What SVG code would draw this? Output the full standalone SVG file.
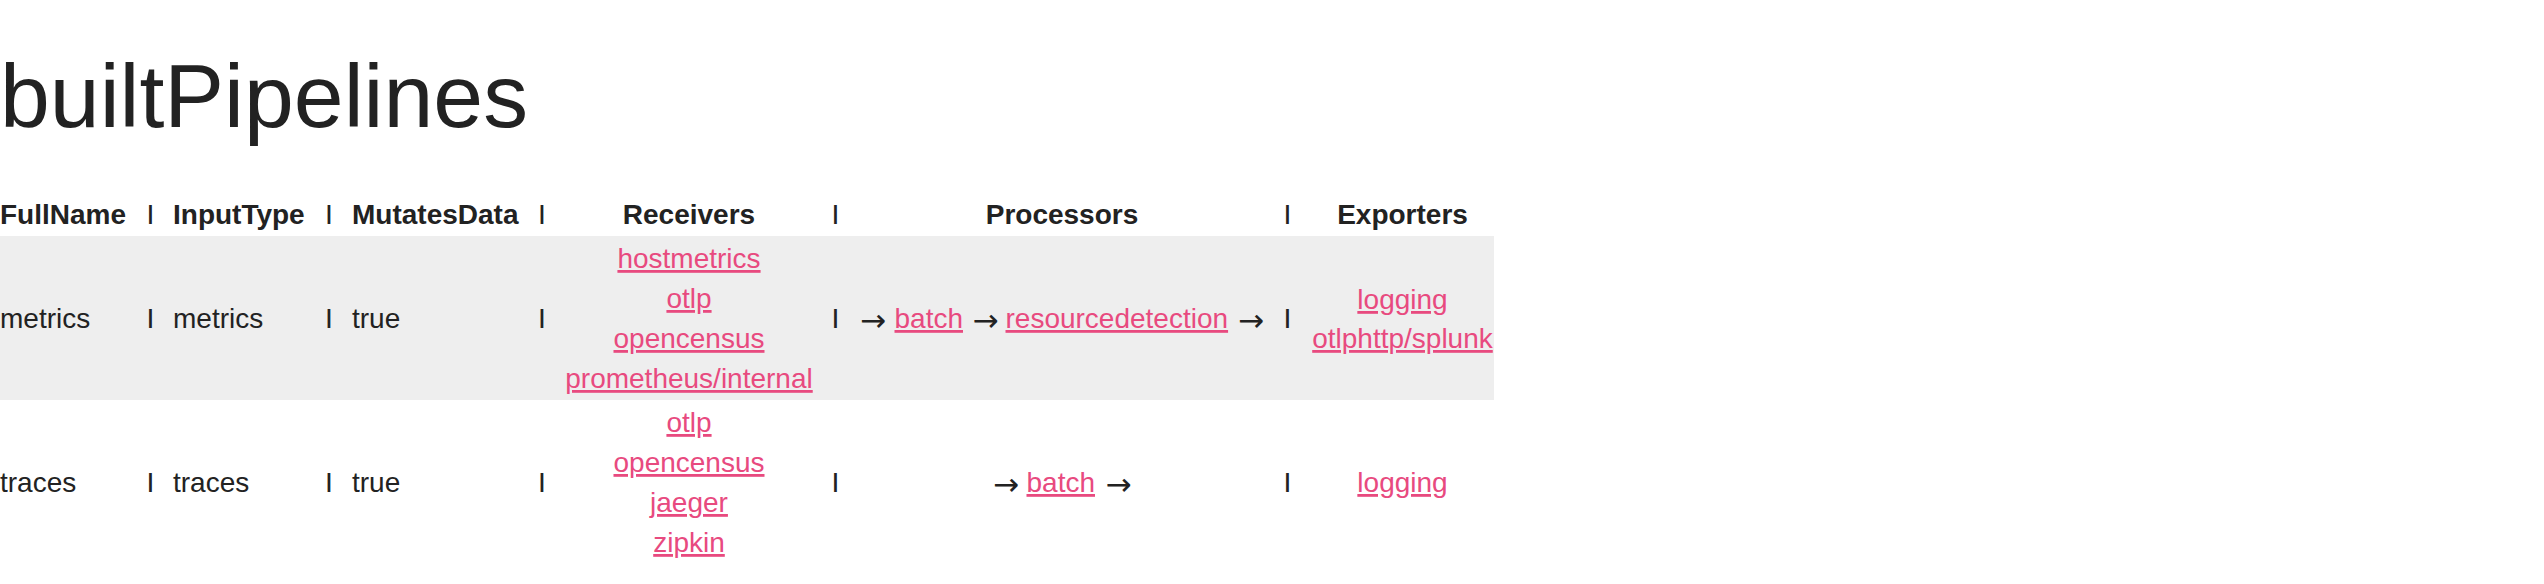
<svg xmlns="http://www.w3.org/2000/svg" width="2544" height="584" viewBox="0 0 2544 584">
<style>
text { font-family: "Liberation Sans", Arial, Helvetica, sans-serif; font-size: 28px; fill: #222; }
.title { font-size: 89.6px; }
.h { font-weight: bold; }
.c { text-anchor: middle; }
.a { fill: #e84a7f; text-decoration: underline; }
.bar { font-size: 21px; font-weight: bold; text-anchor: middle; }
.arr { font-family: "DejaVu Sans", sans-serif; font-size: 31px; text-anchor: middle; }
</style>
<rect width="2544" height="584" fill="#ffffff"/>
<g id="title">
<text class="title" x="0" y="127">builtPipelines</text>
</g>
<g id="header">
<text class="h" x="0" y="224">FullName</text>
<text class="bar" x="150.5" y="219.5">|</text>
<text class="h" x="173" y="224">InputType</text>
<text class="bar" x="329" y="219.5">|</text>
<text class="h" x="352" y="224">MutatesData</text>
<text class="bar" x="542" y="219.5">|</text>
<text class="h c" x="689" y="224">Receivers</text>
<text class="bar" x="835.5" y="219.5">|</text>
<text class="h c" x="1062" y="224">Processors</text>
<text class="bar" x="1287.5" y="219.5">|</text>
<text class="h c" x="1402.5" y="224">Exporters</text>
</g>
<g id="row-metrics">
<rect x="0" y="236" width="1494" height="164" fill="#eeeeee"/>
<text x="0" y="328">metrics</text>
<text class="bar" x="150.5" y="323.5">|</text>
<text x="173" y="328">metrics</text>
<text class="bar" x="329" y="323.5">|</text>
<text x="352" y="328">true</text>
<text class="bar" x="542" y="323.5">|</text>
<text class="c a" x="689" y="268">hostmetrics</text>
<text class="c a" x="689" y="308">otlp</text>
<text class="c a" x="689" y="348">opencensus</text>
<text class="c a" x="689" y="388">prometheus/internal</text>
<text class="bar" x="835.5" y="323.5">|</text>
<text class="arr" x="873" y="331">→</text>
<text class="a" x="894.5" y="328">batch</text>
<text class="arr" x="985.5" y="331">→</text>
<text class="a" x="1005.5" y="328">resourcedetection</text>
<text class="arr" x="1251" y="331">→</text>
<text class="bar" x="1287.5" y="323.5">|</text>
<text class="c a" x="1402.5" y="309">logging</text>
<text class="c a" x="1402.5" y="348">otlphttp/splunk</text>
</g>
<g id="row-traces">
<text x="0" y="492">traces</text>
<text class="bar" x="150.5" y="487.5">|</text>
<text x="173" y="492">traces</text>
<text class="bar" x="329" y="487.5">|</text>
<text x="352" y="492">true</text>
<text class="bar" x="542" y="487.5">|</text>
<text class="c a" x="689" y="432">otlp</text>
<text class="c a" x="689" y="472">opencensus</text>
<text class="c a" x="689" y="512">jaeger</text>
<text class="c a" x="689" y="552">zipkin</text>
<text class="bar" x="835.5" y="487.5">|</text>
<text class="arr" x="1006" y="495">→</text>
<text class="a" x="1026.5" y="492">batch</text>
<text class="arr" x="1118.5" y="495">→</text>
<text class="bar" x="1287.5" y="487.5">|</text>
<text class="c a" x="1402.5" y="492">logging</text>
</g>
</svg>
